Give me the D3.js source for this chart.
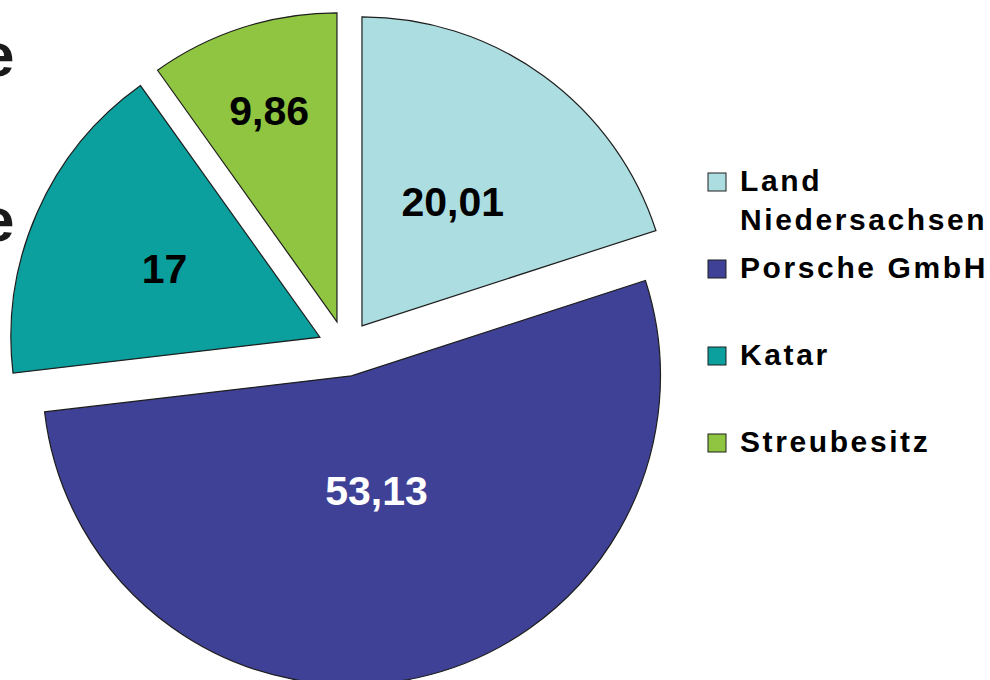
<!DOCTYPE html>
<meta charset="utf-8">
<script src="https://cdn.jsdelivr.net/npm/d3@7"></script>
<style>
body { margin: 0; background: #fff; }
svg { font-family: "Liberation Sans", Arial, sans-serif; font-weight: bold; }
.slice { stroke: #1e1e1e; stroke-width: 1.2; }
.legend text { font-size: 30px; letter-spacing: 2.6px; fill: #000; }
</style>
<div id="chart"></div>
<script>
// shareholders and their share in percent
const names = ["Land Niedersachsen", "Porsche GmbH", "Katar", "Streubesitz"];
const legendLines = [["Land", "Niedersachsen"], ["Porsche GmbH"], ["Katar"], ["Streubesitz"]];
const shares = [20.01, 53.13, 17, 9.86];
const labels = ["20,01", "53,13", "17", "9,86"];
const colors = ["#acdde0", "#3f4197", "#0b9f9e", "#8fc541"];
const labelColors = ["#000", "#fff", "#000", "#000"];

const width = 990, height = 680;
const cx = 345.5, cy = 348.5, radius = 309, explode = 28;
// how far out (fraction of radius) each value label sits
const labelRadius = [0.5, 0.38, 0.55, 0.72];

const svg = d3.select("#chart").append("svg")
  .attr("width", width)
  .attr("height", height);

const pie = d3.pie().sort(null).value(d => d);
const arcs = pie(shares);
const arc = d3.arc().innerRadius(0).outerRadius(radius);

const g = svg.append("g").attr("transform", `translate(${cx},${cy})`);

const slice = g.selectAll(".s")
  .data(arcs)
  .enter().append("g")
  .attr("transform", d => {
    const a = (d.startAngle + d.endAngle) / 2;
    return `translate(${explode * Math.sin(a)},${-explode * Math.cos(a)})`;
  });

slice.append("path")
  .attr("class", "slice")
  .attr("d", arc)
  .attr("fill", (d, i) => colors[i]);

slice.append("text")
  .attr("transform", (d, i) => {
    const a = (d.startAngle + d.endAngle) / 2;
    const r = radius * labelRadius[i];
    return `translate(${r * Math.sin(a)},${-r * Math.cos(a)})`;
  })
  .attr("text-anchor", "middle")
  .attr("dy", "0.36em")
  .attr("font-size", 41)
  .attr("fill", (d, i) => labelColors[i])
  .text((d, i) => labels[i]);

// legend
const legend = svg.append("g").attr("class", "legend");
const legendY = d3.scalePoint().domain(names).range([191, 452]);
const item = legend.selectAll("g")
  .data(names)
  .enter().append("g")
  .attr("transform", d => `translate(708,${legendY(d)})`);

item.append("rect")
  .attr("x", 0).attr("y", -18)
  .attr("width", 18).attr("height", 18)
  .attr("fill", (d, i) => colors[i])
  .attr("stroke", "#1e1e1e")
  .attr("stroke-width", 1);

item.append("text")
  .attr("x", 32)
  .selectAll("tspan")
  .data((d, i) => legendLines[i])
  .enter().append("tspan")
  .attr("x", 32)
  .attr("dy", (d, j) => j ? 39 : 0)
  .text(d => d);

// slide text cut off at the left edge (as in the source picture)
svg.selectAll(".cut")
  .data([76, 241])
  .enter().append("text")
  .attr("x", -20)
  .attr("y", d => d)
  .attr("font-size", 62)
  .attr("fill", "#1a1a1a")
  .text("e");
</script>
